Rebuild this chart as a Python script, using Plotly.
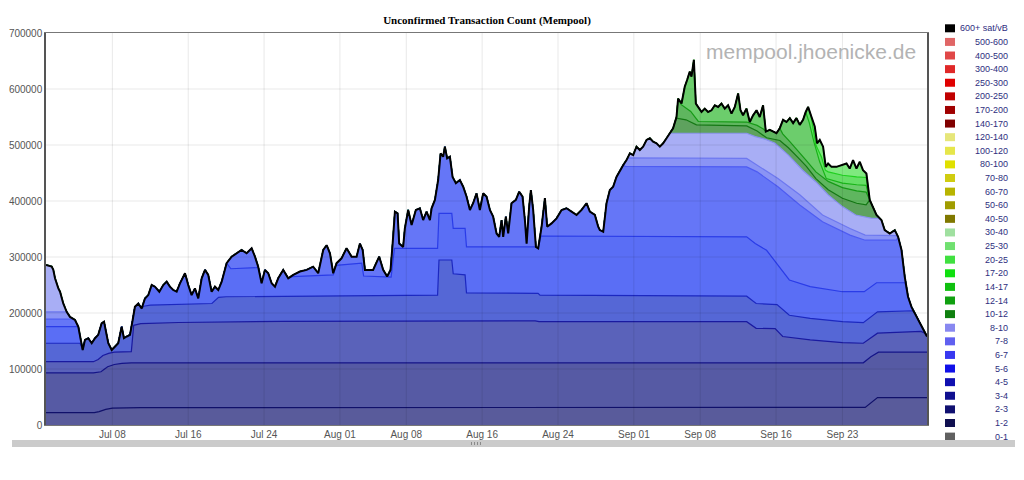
import pandas as pd
import plotly.graph_objects as go

# mempool size: day offset from Jul 1 and count in thousands
base = pd.Timestamp("2023-07-01")

total_days = [0.0, 0.6, 0.77, 0.95, 1.3, 1.48, 1.82, 2.18, 2.53, 3.06, 3.41, 3.58, 3.87, 4.11, 4.46,
              4.82, 5.17, 5.51, 5.87, 6.12, 6.33, 6.57, 6.93, 7.28, 7.62, 7.98, 8.22, 8.51, 8.86, 9.14,
              9.38, 9.73, 10.09, 10.44, 10.79, 11.15, 11.49, 11.95, 12.37, 12.73, 13.07, 13.42, 13.78,
              14.13, 14.66, 15.0, 15.36, 15.71, 16.06, 16.42, 16.77, 17.11, 17.47, 17.82, 18.17, 18.53,
              19.05, 19.58, 20.11, 20.63, 21.16, 21.69, 22.04, 22.38, 22.74, 23.09, 23.44, 23.8, 24.15,
              24.49, 25.02, 25.55, 26.08, 26.78, 27.49, 28.18, 28.71, 29.24, 29.6, 29.95,
              30.29, 30.65, 31.17, 31.7, 32.23, 32.76, 33.11, 33.4, 33.64, 33.99, 34.5, 35.14, 35.56,
              35.98, 36.34, 36.56, 36.8, 37.08, 37.25, 37.67, 37.85, 38.2, 38.56, 39.01, 39.43, 39.78,
              40.14, 40.49, 40.67, 41.02, 41.36, 41.62, 41.89, 42.07, 42.31, 42.6, 42.88, 43.23, 43.65,
              44.0, 44.36, 44.71, 45.05, 45.41, 45.76, 46.11, 46.47, 46.82, 47.16, 47.52, 47.8, 48.05,
              48.22, 48.5, 48.75, 49.1, 49.56, 49.91, 50.26, 50.51, 50.69, 50.96, 51.14, 51.38, 51.67,
              51.91, 52.27, 52.62, 52.86, 53.32, 53.85, 54.38, 54.9, 55.43, 55.96, 56.49, 57.01, 57.36,
              57.89, 58.24, 58.41, 58.77, 59.12, 59.47, 59.82, 60.17, 60.52, 60.87, 61.23, 61.58,
              61.93, 62.28, 62.63, 62.98, 63.34, 63.69, 64.03, 64.39, 64.74, 65.09, 65.45, 65.79,
              66.14, 66.5, 66.67, 67.03, 67.37, 67.62, 67.9, 68.08, 68.33, 68.54, 68.78, 69.14, 69.48,
              69.83, 70.19, 70.54, 70.89, 71.24, 71.59, 71.94, 72.3, 72.65, 73.0, 73.25, 73.52, 73.88,
              74.23, 74.58, 74.94, 75.28, 75.63, 75.92, 76.34, 76.69, 77.04, 77.39, 77.74, 78.1, 78.45,
              78.8, 79.15, 79.5, 79.85, 80.13, 80.38, 80.74, 81.08, 81.33, 81.61, 81.96, 82.24, 82.49,
              82.85, 83.37, 83.9, 84.43, 84.77, 85.12, 85.48, 85.83, 86.17, 86.53, 86.88, 87.59, 88.11,
              88.46, 88.99, 89.52, 89.87, 90.23, 90.57, 90.92, 91.28, 91.63, 91.98, 92.33, 92.68, 92.92]
total_k = [286, 283, 277, 262, 244, 238, 217, 202, 193, 187.5, 175.5, 158, 134, 152, 155,
           146, 155, 161, 181.6, 184.5, 164, 146, 134, 140, 146, 175.5, 155, 158, 161, 187.5,
           211, 217, 208, 226, 232, 250, 247, 238, 250, 256, 247, 241, 238,
           253, 271, 250, 232, 244, 226, 262, 277, 268, 238, 247, 241, 256,
           289, 300.6, 306.6, 312.5, 306.6, 315.5, 300.6, 282.7, 253, 277, 271, 253, 247,
           262, 277, 262, 268, 274, 277, 282.7, 271, 312.5, 321, 306.6,
           271, 289, 297.6, 315.5, 300.6, 300.6, 324, 312.5, 277, 277, 277, 300.6, 277,
           265, 277, 324, 381, 378, 324, 318, 351, 384, 357, 384, 387, 366,
           381, 366, 387, 402, 437.5, 485, 479, 497, 476, 479, 443, 431.6, 437.5,
           425.5, 407.7, 384, 396, 413.7, 384, 413.7, 407.7, 384, 372, 342, 336, 366,
           336, 372, 342, 396, 402, 416.6, 407.7, 366, 324, 390, 419.6, 384, 318,
           315.5, 354, 405, 354, 360, 369, 384, 387, 381, 375, 384, 396, 381,
           375, 354, 348, 345, 396, 419.6, 425.5, 443, 455, 464, 473, 485,
           482, 497, 491, 497, 509, 512, 506, 503, 497, 503, 512, 521,
           530, 550, 583, 574, 604, 616, 631, 622, 652, 574, 568, 559, 565,
           559, 562, 571, 568, 574, 565, 571, 556, 568, 592, 562, 553, 565,
           541, 553, 562, 550, 571, 524, 527, 524, 521, 530, 545, 541, 548,
           539, 548, 536, 545, 559, 568, 550, 533, 503, 509, 497, 461, 467,
           461, 461, 464, 467, 458, 473, 458, 470, 455, 449, 402, 375, 366,
           348, 342, 348, 336, 312.5, 265, 229, 211, 199.5, 187.5, 175.5, 164, 158]

# upper edge of each fee band (cumulative, thousands); "follow" = stretches where
# the band edge lies on the total line
lvl_1_2 = [(0, 22), (5.1, 22), (5.6, 24), (6.3, 28), (7.0, 30), (10, 31), (86.4, 31.5),
           (87.0, 40), (87.7, 49), (92.92, 49)]
lvl_1_2_follow = []
lvl_2_3 = [(0, 93), (5.0, 93), (5.8, 95), (6.5, 104), (7.2, 108), (8.0, 110), (9.0, 111),
           (86.2, 111), (87.0, 122), (87.8, 130), (92.92, 130)]
lvl_2_3_follow = []
lvl_3_4 = [(0, 113), (5.0, 113), (5.5, 117), (6.0, 124), (6.6, 128), (7.2, 130), (9.0, 131),
           (9.25, 178), (10, 181), (14, 183), (25, 185), (40, 186), (51.6, 186), (52.0, 184.5),
           (73.9, 184.5), (74.9, 172.6), (76.9, 172), (77.7, 158), (80.6, 152), (84.0, 147),
           (86.2, 146), (87.7, 164), (92.3, 167)]
lvl_3_4_follow = [(92.68, 92.92)]
lvl_4_5 = [(0, 146), (3.6, 146), (10.3, 212), (11.0, 214), (17.5, 217), (18.2, 228), (19.0, 229),
           (30.0, 231), (41.3, 232), (41.45, 294.6), (42.8, 294.6), (42.95, 270), (44.2, 268),
           (44.35, 236), (51.9, 235), (52.1, 232), (73.9, 230), (74.9, 217), (77.1, 215),
           (78.4, 196), (80.6, 190.5), (84.0, 184.5), (86.2, 182.7), (87.7, 202), (91.4, 204)]
lvl_4_5_follow = [(3.87, 10.09), (91.63, 92.92)]
lvl_5_6 = [(0, 175.5), (3.2, 175.5), (19.5, 279), (22.2, 281), (26.0, 265), (30.3, 268),
           (30.6, 285), (33.3, 289), (33.5, 266), (36.4, 264), (36.75, 315.5), (41.3, 315.5),
           (41.45, 378), (42.8, 378), (42.95, 351), (44.2, 351), (44.35, 318), (51.5, 318),
           (52.2, 337.5), (73.9, 336), (74.8, 324), (76.0, 312), (77.2, 285), (78.4, 259),
           (80.6, 247), (84.0, 238), (86.3, 238), (87.6, 254), (90.6, 254)]
lvl_5_6_follow = [(3.41, 19.05), (22.38, 25.55), (51.67, 51.91), (90.92, 92.92)]
lvl_6_7 = [(0, 189), (2.7, 189), (61.1, 462), (73.9, 461), (75.0, 452), (77.2, 425.5),
           (79.5, 393), (81.9, 363), (84.8, 339), (86.4, 330), (89.7, 330)]
lvl_6_7_follow = [(3.06, 60.87), (89.87, 92.92)]
lvl_7_8 = [(0, 202), (2.1, 202), (61.5, 477), (73.9, 476), (75.0, 464), (77.2, 440),
           (79.5, 411), (81.9, 375), (84.8, 351), (86.4, 339), (89.7, 338)]
lvl_7_8_follow = [(2.18, 61.23), (89.87, 92.92)]
lvl_8_10 = [(66.1, 521), (73.9, 521), (74.8, 515), (75.9, 510), (76.9, 503), (78.3, 482),
            (79.8, 455), (81.2, 434), (82.5, 411), (84.0, 390), (85.4, 375), (87.1, 369),
            (87.8, 369)]
lvl_8_10_follow = [(0, 65.79), (88.11, 92.92)]
lvl_10_12 = [(66.5, 548), (67.5, 545), (68.6, 536), (73.9, 534), (75.0, 525), (76.0, 513),
             (77.4, 508), (78.3, 495), (79.3, 478), (80.2, 462), (81.2, 440), (82.5, 420),
             (84.0, 405), (85.5, 396), (86.5, 393)]
lvl_10_12_follow = [(0, 66.14), (86.88, 92.92)]
lvl_12_14 = [(67.0, 572), (68.0, 560), (68.8, 542), (73.9, 541), (75.0, 535), (75.7, 528),
             (77.7, 520), (78.5, 505), (79.3, 490), (80.2, 472), (81.2, 452), (82.5, 435),
             (84.0, 424), (85.5, 418), (86.5, 416)]
lvl_12_14_follow = [(0, 66.67), (75.92, 77.39), (86.88, 92.92)]
lvl_14_17 = [(80.5, 540), (81.0, 505), (81.6, 470), (82.3, 440), (84.0, 432), (85.5, 429),
             (86.5, 428)]
lvl_14_17_follow = [(0, 80.13), (86.88, 92.92)]
lvl_17_20 = [(80.7, 550), (81.2, 500), (81.8, 478), (82.2, 455), (82.5, 452), (84.0, 446),
             (85.5, 443), (86.5, 442)]
lvl_17_20_follow = [(0, 80.38), (86.88, 92.92)]

legend_labels = ["600+ sat/vB", "500-600", "400-500", "300-400", "250-300", "200-250", "170-200",
                 "140-170", "120-140", "100-120", "80-100", "70-80", "60-70", "50-60", "40-50",
                 "30-40", "25-30", "20-25", "17-20", "14-17", "12-14", "10-12", "8-10", "7-8",
                 "6-7", "5-6", "4-5", "3-4", "2-3", "1-2", "0-1"]
legend_colors = ["#000000", "#e06666", "#e04848", "#e02828", "#e00000", "#c00000", "#a00000",
                 "#800000", "#e6e67a", "#e6e64a", "#e0e000", "#d0cc10", "#b8b400", "#a09c00",
                 "#807800", "#a0e0a0", "#70e070", "#40e040", "#10e010", "#10c010", "#10a010",
                 "#108010", "#8888f0", "#6060f0", "#3838f0", "#1010e8", "#1010b0", "#101090",
                 "#101070", "#101050", "#606060"]

tick_days = [7, 15, 23, 31, 38, 46, 54, 62, 69, 77, 84]
tick_text = ["Jul 08", "Jul 16", "Jul 24", "Aug 01", "Aug 08", "Aug 16", "Aug 24",
             "Sep 01", "Sep 08", "Sep 16", "Sep 23"]


def to_dates(days):
    return [base + pd.Timedelta(days=d) for d in days]


def build(points, follow):
    pts = list(points)
    for a, b in follow:
        pts += [(d, v) for d, v in zip(total_days, total_k) if a - 1e-6 <= d <= b + 1e-6]
    pts.sort()
    return to_dates([p[0] for p in pts]), [p[1] * 1000 for p in pts]


# painted top-down, each filled to zero: (points, follow, fill, line)
bands = [
    (list(zip(total_days, total_k)), [], "#7fe97f", "#40e040"),
    (lvl_17_20, lvl_17_20_follow, "#66df66", "#20d020"),
    (lvl_14_17, lvl_14_17_follow, "#6ccd6c", "#18b418"),
    (lvl_12_14, lvl_12_14_follow, "#5fb65f", "#169a16"),
    (lvl_10_12, lvl_10_12_follow, "#5ea25e", "#147814"),
    (lvl_8_10, lvl_8_10_follow, "#a8aef5", "#8a92f0"),
    (lvl_7_8, lvl_7_8_follow, "#8a94f5", "#6d78f0"),
    (lvl_6_7, lvl_6_7_follow, "#6576f7", "#4e5cf2"),
    (lvl_5_6, lvl_5_6_follow, "#5a6ef5", "#2a3ce8"),
    (lvl_4_5, lvl_4_5_follow, "#5567d6", "#1c28c0"),
    (lvl_3_4, lvl_3_4_follow, "#5a62ba", "#1a1aa0"),
    (lvl_2_3, lvl_2_3_follow, "#565aa4", "#141488"),
    (lvl_1_2, lvl_1_2_follow, "#595b9b", "#10106a"),
]

fig = go.Figure()
for pts, follow, fill, line in bands:
    x, y = build(pts, follow)
    fig.add_trace(go.Scatter(x=x, y=y, mode="lines", fill="tozeroy", fillcolor=fill,
                             line=dict(color=line, width=1.2), showlegend=False,
                             hoverinfo="skip"))

fig.add_trace(go.Scatter(x=to_dates(total_days), y=[v * 1000 for v in total_k], mode="lines",
                         line=dict(color="black", width=2), showlegend=False))

# the page puts the figure 8px in from the top-left corner, so work in window pixels
OFF = 8
W, H = 1024 - OFF, 480 - OFF
# plot area in window pixels: x 46..927, y 33..425
L, R, T, B = 46, 927, 33, 425


def px(xp):
    return (xp - L) / (R - L)


def py(yp):
    return (B - yp) / (B - T)


shapes = []
for d in tick_days:
    dt = base + pd.Timedelta(days=d)
    shapes.append(dict(type="line", xref="x", yref="paper", x0=dt, x1=dt, y0=0, y1=1,
                       line=dict(color="rgba(0,0,0,0.09)", width=1), layer="above"))
for v in range(100000, 700000, 100000):
    shapes.append(dict(type="line", xref="paper", yref="y", x0=0, x1=1, y0=v, y1=v,
                       line=dict(color="rgba(0,0,0,0.09)", width=1), layer="above"))

annotations = []
for i, (lab, col) in enumerate(zip(legend_labels, legend_colors)):
    yc = 28.3 + i * 13.61
    shapes.append(dict(type="rect", xref="paper", yref="paper", x0=px(945), x1=px(955),
                       y0=py(yc + 4), y1=py(yc - 4), fillcolor=col, line=dict(width=0)))
    annotations.append(dict(xref="paper", yref="paper", x=px(1010), y=py(yc), text=lab,
                            showarrow=False, xanchor="right", yanchor="middle",
                            font=dict(family="Liberation Sans", size=9, color="#2e2e7e")))

# scrollbar strip under the chart, with its grip dots
shapes.append(dict(type="rect", xref="paper", yref="paper", x0=px(12), x1=px(1015),
                   y0=py(447), y1=py(440), fillcolor="#cbcbcb", line=dict(width=0)))
for gx in (471, 474, 477, 480):
    shapes.append(dict(type="rect", xref="paper", yref="paper", x0=px(gx), x1=px(gx + 1),
                       y0=py(445), y1=py(442), fillcolor="#8a8a8a", line=dict(width=0)))

annotations.append(dict(xref="paper", yref="paper", x=px(918), y=py(52),
                        text="mempool.jhoenicke.de", showarrow=False, xanchor="right",
                        yanchor="middle",
                        font=dict(family="Liberation Sans", size=21, color="#b3b3b3")))

fig.update_layout(
    width=W, height=H,
    margin=dict(l=L - OFF, r=1024 - R, t=T - OFF, b=480 - B, autoexpand=False),
    paper_bgcolor="white", plot_bgcolor="white",
    title=dict(text="<b>Unconfirmed Transaction Count (Mempool)</b>", x=px(487), xref="paper",
               y=1 - (20 - OFF) / H, yanchor="middle",
               font=dict(family="Liberation Serif", size=11, color="black")),
    shapes=shapes, annotations=annotations,
    xaxis=dict(type="date", range=[base, base + pd.Timedelta(days=92.92)],
               tickvals=to_dates(tick_days), ticktext=tick_text, showgrid=False,
               showline=True, linecolor="#777", mirror=True, ticks="", automargin=False,
               tickfont=dict(family="Liberation Sans", size=10, color="#555")),
    yaxis=dict(range=[0, 700000], dtick=100000, tickformat="d", showgrid=False,
               showline=True, linecolor="#555", linewidth=1.5, mirror=True, ticks="",
               zeroline=False, automargin=False,
               tickfont=dict(family="Liberation Sans", size=10, color="#555")),
)

fig.write_html("out.html")
